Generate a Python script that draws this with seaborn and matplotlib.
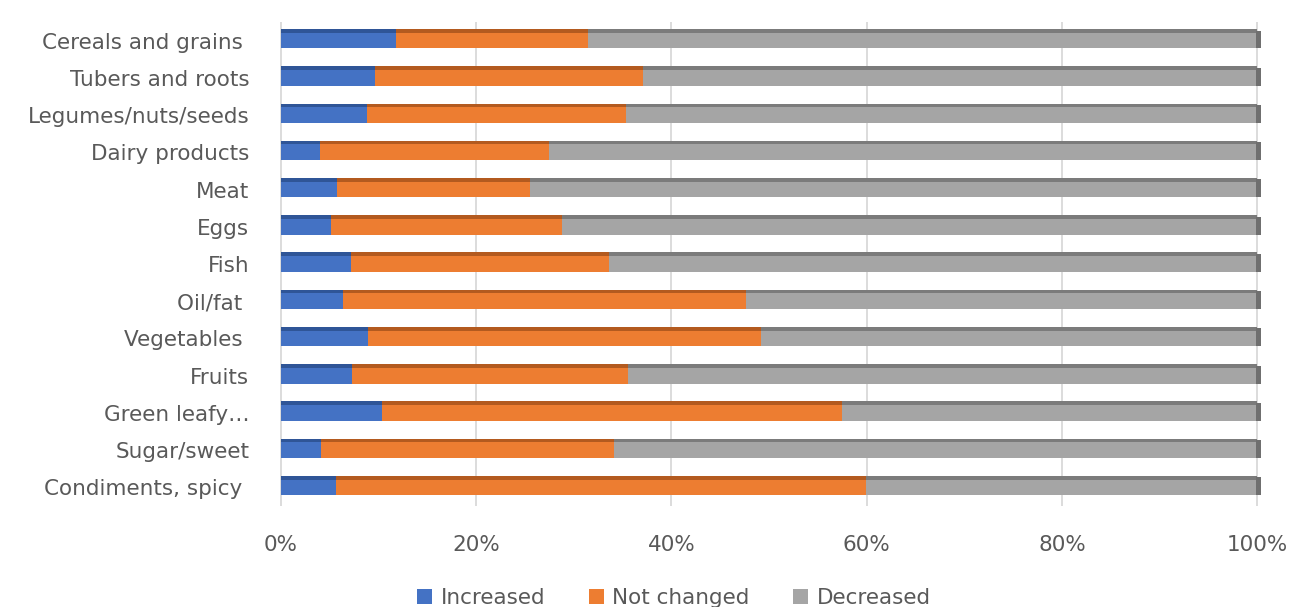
import numpy as np
import pandas as pd
import matplotlib
matplotlib.use("Agg")
import matplotlib.pyplot as plt
import seaborn as sns
from matplotlib.patches import Patch

categories = ["Cereals and grains ", "Tubers and roots", "Legumes/nuts/seeds", "Dairy products",
              "Meat", "Eggs", "Fish", "Oil/fat ", "Vegetables ", "Fruits", "Green leafy\u2026",
              "Sugar/sweet", "Condiments, spicy "]
increased = [11.8, 9.6, 8.8, 4.0, 5.7, 5.1, 7.2, 6.4, 8.9, 7.3, 10.3, 4.1, 5.6]
not_changed = [19.7, 27.5, 26.5, 23.5, 19.8, 23.7, 26.4, 41.2, 40.3, 28.2, 47.2, 30.0, 54.3]
decreased = [100 - a - b for a, b in zip(increased, not_changed)]
series = ["Increased", "Not changed", "Decreased"]
ticks = [0, 20, 40, 60, 80, 100]
tick_labels = ["0%", "20%", "40%", "60%", "80%", "100%"]

colors = ["#4472C4", "#ED7D31", "#A5A5A5"]
dark = ["#2F5597", "#B35A1F", "#7B7B7B"]
text_color = "#595959"

sns.set_theme(style="white")
plt.rcParams['font.family'] = ['DejaVu Sans']
fs = 15.5

df = pd.DataFrame({"cat": categories, "inc": increased, "nc": not_changed, "dec": decreased})
df["c1"] = df["inc"]
df["c2"] = df["inc"] + df["nc"]
df["c3"] = df["c2"] + df["dec"]

fig = plt.figure(figsize=(12.91, 6.07), dpi=100)
ax = fig.add_axes([280/1291, 1 - 506/607, 985/1291, (506 - 22)/607])

bw = 0.42
for col, c in zip(["c3", "c2", "c1"], colors[::-1]):
    sns.barplot(data=df, x=col, y="cat", color=c, width=bw, orient="h",
                saturation=1, ax=ax, zorder=3, linewidth=0, edgecolor="none")

# simulated 3D top face
pos = np.arange(len(categories))
for col, c in zip(["c3", "c2", "c1"], dark[::-1]):
    ax.barh(pos - bw / 2 - 0.05, df[col], height=0.1, color=c, zorder=3, linewidth=0)
# right end face
ax.barh(pos - 0.03, [0.5] * len(pos), left=df["c3"] - 0.1, height=bw + 0.06,
        color="#6F6F6F", zorder=4, linewidth=0)

ax.set_xlim(-0.1, 100.8)
ax.set_ylim(len(categories) - 0.5, -0.5)
ax.set_xticks(ticks)
ax.set_xticklabels(tick_labels)
ax.grid(axis="x", color="#D9D9D9", linewidth=1.3, zorder=0)
ax.grid(axis="y", visible=False)
for s in ax.spines.values():
    s.set_visible(False)
ax.set_xlabel("")
ax.set_ylabel("")
ax.tick_params(axis="x", length=0, pad=21, labelsize=fs, labelcolor=text_color)
ax.tick_params(axis="y", length=0, pad=22, labelsize=fs, labelcolor=text_color)

handles = [Patch(facecolor=c, edgecolor="none") for c in colors]
fig.legend(handles, series, loc="center", bbox_to_anchor=(674/1291, 1 - 598/607), ncol=3,
           frameon=False, fontsize=fs, labelcolor=text_color, handlelength=0.7,
           handleheight=0.7, handletextpad=0.4, columnspacing=2.0)

fig.savefig("out.png", dpi=100)
